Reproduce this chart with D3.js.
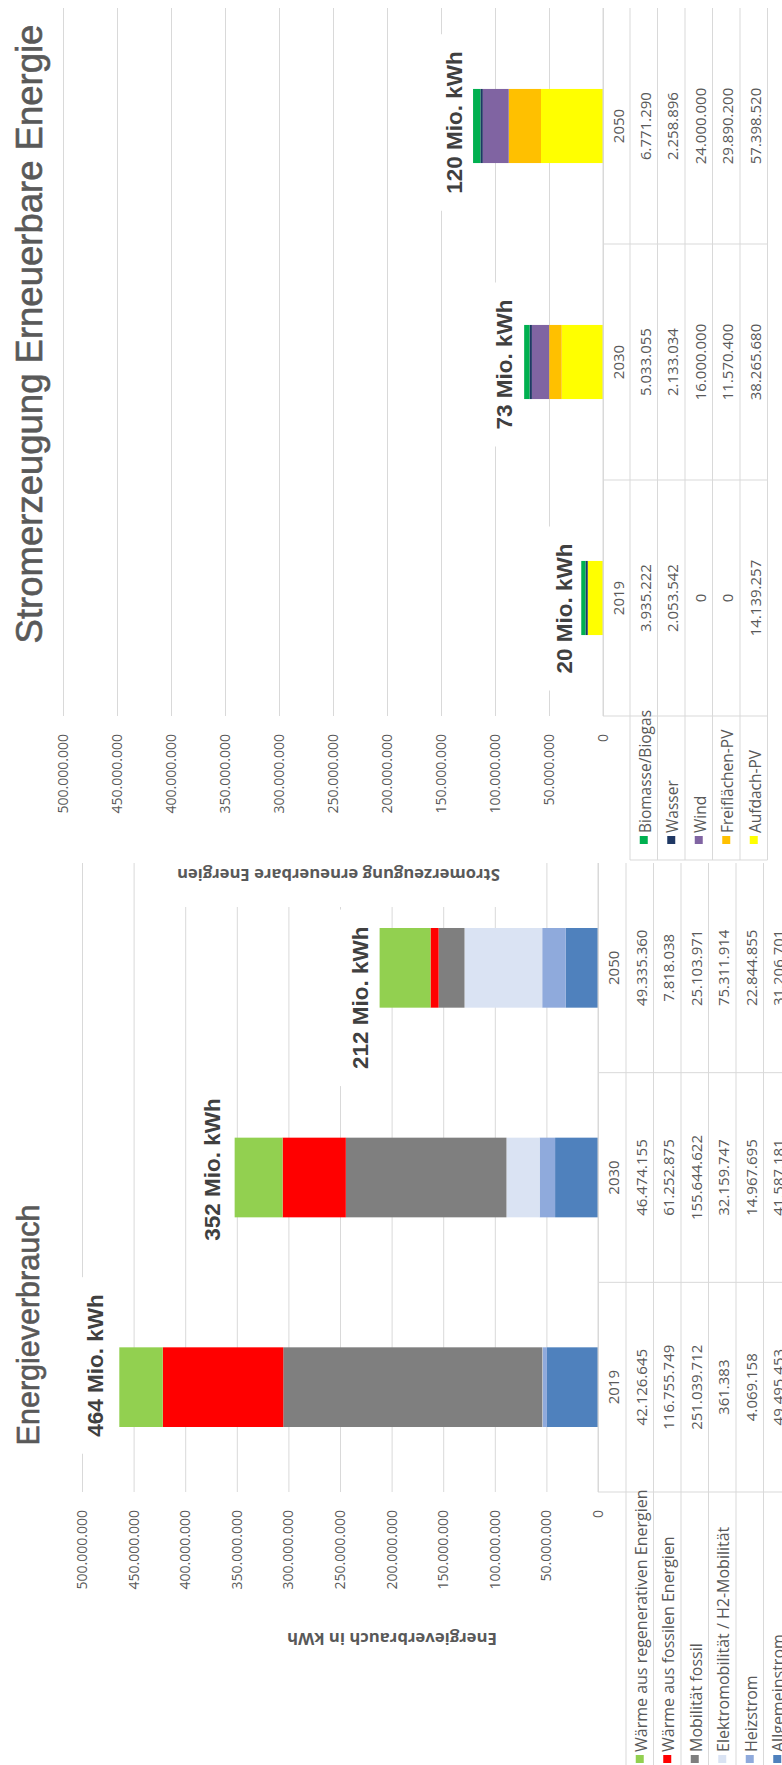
<!DOCTYPE html>
<html><head><meta charset="utf-8">
<script src="https://cdn.jsdelivr.net/npm/d3@7"></script>
<style>html,body{margin:0;padding:0;background:#fff}svg{display:block}</style>
</head><body>
<svg id="chart" width="782" height="1765"></svg>
<script>
// ---------------- DATA ----------------
const years = ["2019", "2030", "2050"];
const yTickValues = [0, 50000000, 100000000, 150000000, 200000000, 250000000, 300000000, 350000000, 400000000, 450000000, 500000000];

const verbrauchSeries = ["Wärme aus regenerativen Energien", "Wärme aus fossilen Energien", "Mobilität fossil", "Elektromobilität / H2-Mobilität", "Heizstrom", "Allgemeinstrom"];
const verbrauchColors = ["#92D050", "#FF0000", "#7F7F7F", "#DAE3F3", "#8FAADC", "#4F81BD"];
const waermeRegenerativ = [42126645, 46474155, 49335360];
const waermeFossil = [116755749, 61252875, 7818038];
const mobilitaetFossil = [251039712, 155644622, 25103971];
const elektromobilitaet = [361383, 32159747, 75311914];
const heizstrom = [4069158, 14967695, 22844855];
const allgemeinstrom = [49495453, 41587181, 31206701];

const erzeugungSeries = ["Biomasse/Biogas", "Wasser", "Wind", "Freiflächen-PV", "Aufdach-PV"];
const erzeugungColors = ["#00B050", "#1F3864", "#8064A2", "#FFC000", "#FFFF00"];
const biomasse = [3935222, 5033055, 6771290];
const wasser = [2053542, 2133034, 2258896];
const wind = [0, 16000000, 24000000];
const freiflaechenPV = [0, 11570400, 29890200];
const aufdachPV = [14139257, 38265680, 57398520];

// ---------------- SETUP ----------------
const locale = d3.formatLocale({decimal: ",", thousands: ".", grouping: [3], currency: ["", " €"]});
const fmt = locale.format(",");
const W = 1765;          // landscape width (portrait height)
const svg = d3.select("#chart");
const root = svg.append("g").attr("transform", `translate(0,${W}) rotate(-90)`);
const GRID = "#D9D9D9", TXT = "#595959";
const SMALL = "'Open Sans', 'DejaVu Sans', sans-serif";
const ARIAL = "'Liberation Sans', Arial, sans-serif";

function drawChart(cfg) {
  const g = root.append("g");
  const cell = d3.scaleBand().domain(years).range(cfg.plotU).padding(0);
  const y = d3.scaleLinear().domain([0, 500000000]).range([cfg.vZero, cfg.vMax]);
  const bw = cell.bandwidth() * cfg.barRatio;

  // gridlines
  const grid = g.append("g").attr("transform", `translate(${cfg.plotU[0]},0)`)
    .call(d3.axisLeft(y).tickValues(yTickValues).tickSizeInner(-(cfg.plotU[1] - cfg.plotU[0])).tickSizeOuter(0).tickFormat(""));
  grid.select(".domain").remove();
  grid.selectAll("line").attr("stroke", GRID).attr("stroke-width", 1);

  // tick labels
  const ax = g.append("g").attr("transform", `translate(${cfg.plotU[0]},0)`)
    .call(d3.axisLeft(y).tickValues(yTickValues).tickSize(0).tickPadding(cfg.plotU[0] - cfg.labelEndU).tickFormat(fmt));
  ax.select(".domain").remove();
  ax.selectAll("text").attr("fill", TXT).style("font-family", SMALL).style("font-size", "14px");

  // axis title (with white box)
  const at = g.append("g").attr("transform", `translate(${cfg.axisTitle.u},${cfg.axisTitle.v}) rotate(-90)`);
  const atBox = at.append("rect").attr("fill", "#fff");
  const atText = at.append("text").text(cfg.axisTitle.text)
    .attr("text-anchor", "middle").attr("dominant-baseline", "central")
    .attr("fill", TXT).style("font-family", SMALL).style("font-weight", "700").style("font-size", "15px");
  const len0 = atText.node().getComputedTextLength();
  atText.style("font-size", (15 * cfg.axisTitle.len / len0) + "px");
  if (cfg.axisTitle.box) {
    const b = cfg.axisTitle.box;
    atBox.attr("x", -cfg.axisTitle.len / 2 - b.pad).attr("width", cfg.axisTitle.len + 2 * b.pad)
      .attr("y", b.y0).attr("height", b.y1 - b.y0);
  }

  // stacked bars
  const rows = years.map((yr, i) => {
    const o = {year: yr};
    cfg.series.forEach((s, k) => o[s] = cfg.values[k][i]);
    return o;
  });
  const keys = cfg.series.slice().reverse();
  const stack = d3.stack().keys(keys)(rows);
  const colorOf = d3.scaleOrdinal().domain(cfg.series).range(cfg.colors);
  g.append("g").selectAll("g").data(stack).join("g").attr("fill", d => colorOf(d.key))
    .selectAll("rect").data(d => d).join("rect")
    .attr("x", d => cell(d.data.year) + (cell.bandwidth() - bw) / 2)
    .attr("width", bw)
    .attr("y", d => y(d[1]))
    .attr("height", d => y(d[0]) - y(d[1]));

  // total labels with white text boxes
  const totals = years.map((yr, i) => d3.sum(cfg.values, v => v[i]));
  totals.forEach((t, i) => {
    const cu = cell(years[i]) + cell.bandwidth() / 2 + cfg.labelShift[i];
    const base = y(t) - cfg.labelGap[i];
    const lg = g.append("g");
    const r = lg.append("rect").attr("fill", "#fff");
    const tx = lg.append("text").text(Math.round(t / 1e6) + " Mio. kWh")
      .attr("x", cu).attr("y", base).attr("text-anchor", "middle")
      .attr("fill", "#404040").style("font-family", ARIAL).style("font-weight", "700").style("font-size", "22.5px");
    const L = tx.node().getComputedTextLength();
    r.attr("x", cu - L / 2 - 17).attr("width", L + 34).attr("y", base - 30).attr("height", 36);
  });

  // data table
  const tg = g.append("g");
  const nRows = cfg.series.length;
  const vEnd = cfg.headerBottom + nRows * cfg.rowH;
  tg.append("line").attr("x1", cfg.plotU[0]).attr("x2", cfg.plotU[1]).attr("y1", cfg.vZero).attr("y2", cfg.vZero).attr("stroke", GRID);
  for (let i = 0; i <= nRows; i++) {
    const v = cfg.headerBottom + i * cfg.rowH;
    tg.append("line").attr("x1", cfg.tableStartU).attr("x2", cfg.plotU[1]).attr("y1", v).attr("y2", v).attr("stroke", GRID);
  }
  years.forEach(yr => {
    const u = cell(yr);
    tg.append("line").attr("x1", u).attr("x2", u).attr("y1", cfg.vZero).attr("y2", vEnd).attr("stroke", GRID);
  });
  if (cfg.legendBorder) {
    tg.append("line").attr("x1", cfg.tableStartU).attr("x2", cfg.tableStartU).attr("y1", cfg.headerBottom).attr("y2", vEnd).attr("stroke", GRID);
  }
  tg.selectAll("text.yr").data(years).join("text").attr("class", "yr")
    .attr("x", d => cell(d) + cell.bandwidth() / 2).attr("y", (cfg.vZero + cfg.headerBottom) / 2 + 1)
    .attr("text-anchor", "middle").attr("dominant-baseline", "central")
    .attr("fill", TXT).style("font-family", SMALL).style("font-size", "15px").text(d => d);
  cfg.series.forEach((s, k) => {
    const vc = cfg.headerBottom + (k + 0.5) * cfg.rowH;
    tg.append("rect").attr("x", cfg.keyU).attr("y", vc - 4).attr("width", 8).attr("height", 8).attr("fill", cfg.colors[k]);
    tg.append("text").attr("x", cfg.keyU + 11).attr("y", vc + 1).attr("dominant-baseline", "central")
      .attr("fill", TXT).style("font-family", SMALL).style("font-size", cfg.legendSize + "px").text(s);
    years.forEach((yr, i) => {
      tg.append("text").attr("x", cell(yr) + cell.bandwidth() / 2).attr("y", vc + 1)
        .attr("text-anchor", "middle").attr("dominant-baseline", "central")
        .attr("fill", TXT).style("font-family", SMALL).style("font-size", "15px").text(fmt(cfg.values[k][i]));
    });
  });

  // chart title
  g.append("text").text(cfg.title.text).attr("x", cfg.title.u).attr("y", cfg.title.v)
    .attr("text-anchor", "middle")
    .attr("fill", TXT).attr("stroke", TXT).attr("stroke-width", 0.6)
    .style("font-family", ARIAL).style("font-size", cfg.title.size + "px");
}

drawChart({
  plotU: [273, 902], vZero: 598, vMax: 82, barRatio: 0.38,
  series: verbrauchSeries, colors: verbrauchColors,
  values: [waermeRegenerativ, waermeFossil, mobilitaetFossil, elektromobilitaet, heizstrom, allgemeinstrom],
  labelEndU: 255,
  axisTitle: {text: "Energieverbrauch in kWh", u: 126, v: 392, len: 210},
  labelShift: [21.7, 8, -30], labelGap: [16, 14.6, 11.6],
  headerBottom: 626, rowH: 27.5, tableStartU: -20, legendBorder: false, keyU: 2, legendSize: 16,
  title: {text: "Energieverbrauch", u: 440, v: 39, size: 30.5}
});

drawChart({
  plotU: [1049, 1757], vZero: 603, vMax: 63, barRatio: 0.314,
  series: erzeugungSeries, colors: erzeugungColors,
  values: [biomasse, wasser, wind, freiflaechenPV, aufdachPV],
  labelEndU: 1031,
  axisTitle: {text: "Stromerzeugung erneuerbare Energien", u: 890, v: 338.5, len: 323, box: {pad: 8, y0: -32, y1: 12}},
  labelShift: [-10.5, -2.5, 3.5], labelGap: [9, 12, 11],
  headerBottom: 630, rowH: 27.5, tableStartU: 905, legendBorder: true, keyU: 921, legendSize: 15.5,
  title: {text: "Stromerzeugung Erneuerbare Energie", u: 1431, v: 42, size: 36.5}
});
</script>
</body></html>
